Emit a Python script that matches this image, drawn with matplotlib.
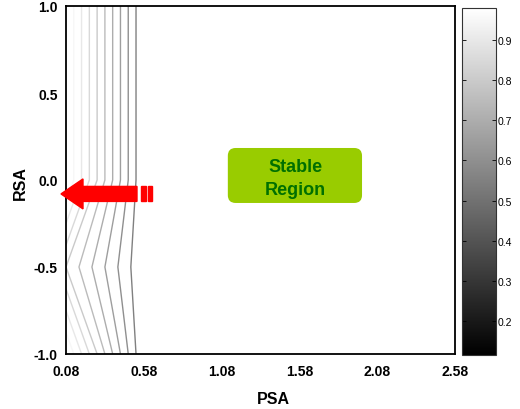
import numpy as np
import matplotlib.pyplot as plt
from matplotlib import patches
from matplotlib.colors import Normalize
from matplotlib.cm import ScalarMappable

plt.rcParams['font.family'] = ['Liberation Sans', 'DejaVu Sans']

# grid (kinks of the contour lines sit on these nodes)
psa = [0.08, 0.58, 1.08, 1.58, 2.08, 2.58]
rsa = [-1.0, -0.5, 0.0, 0.5, 1.0]
# z[row = rsa][col = psa]
z_vals = [
    [1.00, 0.50, 0.50, 0.50, 0.50, 0.50],
    [0.80, 0.50, 0.50, 0.50, 0.50, 0.50],
    [1.00, 0.50, 0.50, 0.50, 0.50, 0.50],
    [1.00, 0.50, 0.50, 0.50, 0.50, 0.50],
    [1.00, 0.50, 0.50, 0.50, 0.50, 0.50],
]
levels = [0.55, 0.60, 0.65, 0.70, 0.75, 0.80, 0.85, 0.90, 0.95]
cbar_range = (0.115, 0.98)
cbar_ticks = [0.2, 0.3, 0.4, 0.5, 0.6, 0.7, 0.8, 0.9]
x_ticks = [0.08, 0.58, 1.08, 1.58, 2.08, 2.58]
y_ticks = [-1.0, -0.5, 0.0, 0.5, 1.0]

fig = plt.figure(figsize=(5.2, 4.1), dpi=100)
ax = fig.add_axes([66 / 520, 55 / 410, 389 / 520, 348 / 410])

X, Y = np.meshgrid(psa, rsa)
Z = np.array(z_vals)
norm = Normalize(*cbar_range)
ax.contour(X, Y, Z, levels=levels, cmap='gray', norm=norm, linewidths=1.0)

ax.set_xlim(0.08, 2.58)
ax.set_ylim(-1.0, 1.0)
ax.set_xticks(x_ticks)
ax.set_xticklabels(['%.2f' % v for v in x_ticks], fontweight='bold', fontsize=10)
ax.set_yticks(y_ticks)
ax.set_yticklabels(['%.1f' % v for v in y_ticks], fontweight='bold', fontsize=10)
ax.tick_params(length=0)
ax.tick_params(axis='x', pad=7)
ax.tick_params(axis='y', pad=6)
for s in ax.spines.values():
    s.set_linewidth(1.3)
    s.set_color('black')

fig.text(273 / 520, 1 - 400 / 410, 'PSA', ha='center', va='center',
         fontweight='bold', fontsize=11.5)
fig.text(20 / 520, 1 - 183 / 410, 'RSA', ha='center', va='center',
         rotation=90, fontweight='bold', fontsize=11.5)

# stable region label
box = patches.FancyBboxPatch((0.416, 0.434), 0.345, 0.158,
                             boxstyle='round,pad=0,rounding_size=0.02',
                             mutation_aspect=389 / 348,
                             transform=ax.transAxes, facecolor='#99cc00',
                             edgecolor='none', zorder=3)
ax.add_patch(box)
ax.text(0.589, 0.506, 'Stable\nRegion', transform=ax.transAxes, ha='center',
        va='center', fontweight='bold', fontsize=13, color='#007000',
        linespacing=1.45, zorder=4)

# red arrow pointing at the axis
arrow = patches.FancyArrow(0.1825, 0.46, -0.1954, 0, width=0.0431,
                           head_width=0.0862, head_length=0.0566,
                           length_includes_head=True, transform=ax.transAxes,
                           color='#ff0000', clip_on=False, zorder=5)
ax.add_patch(arrow)
for bx, bw in [(0.1928, 0.0129), (0.2108, 0.0103)]:
    ax.add_patch(patches.Rectangle((bx, 0.4385), bw, 0.0431,
                                   transform=ax.transAxes, color='#ff0000',
                                   clip_on=False, zorder=5))

# colorbar
cax = fig.add_axes([462 / 520, 54 / 410, 34 / 520, 347 / 410])
cb = fig.colorbar(ScalarMappable(norm=norm, cmap='gray'), cax=cax,
                  ticks=cbar_ticks)
cb.ax.tick_params(direction='in', left=True, right=True, length=3,
                  width=0.6, labelsize=7.5, pad=1)
cb.ax.set_yticklabels(['%.1f' % v for v in cbar_ticks])
cb.outline.set_linewidth(0.8)
cb.outline.set_edgecolor('#333333')

fig.savefig('out.png', dpi=100)
